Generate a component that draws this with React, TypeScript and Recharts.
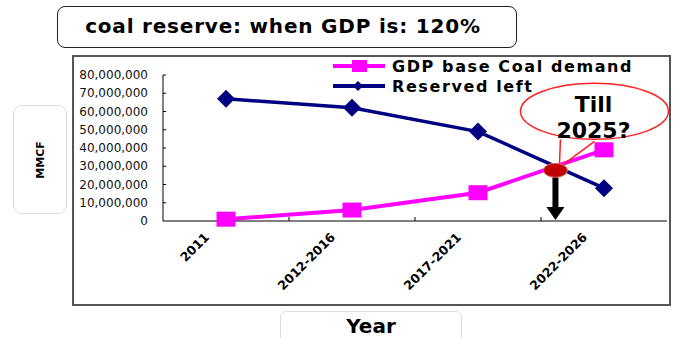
import React from 'react';
import { LineChart, Line, XAxis, YAxis, Legend } from 'recharts';

const years = ['2011', '2012-2016', '2017-2021', '2022-2026'];
const coalDemand = [1000000, 6000000, 15500000, 39000000];
const reservedLeft = [67000000, 62000000, 49000000, 18000000];
const yTicks = [0, 10000000, 20000000, 30000000, 40000000, 50000000, 60000000, 70000000, 80000000];
const seriesNames = ['GDP base Coal demand', 'Reserved left'];
const titleText = 'coal reserve: when GDP is: 120%';
const yLabelText = 'MMCF';
const xLabelText = 'Year';
const calloutLines = ['Till', '2025?'];

const data = years.map((y, i) => ({ year: y, demand: coalDemand[i], reserve: reservedLeft[i] }));

const W = 676;
const H = 338;
const PLOT_L = 163;
const PLOT_R = 667;
const PLOT_T = 75;
const PLOT_B = 221;
const X_TICK_MARGIN = 8;
const Y_TICK_MARGIN = 15;
const MAGENTA = '#FF00FF';
const NAVY = '#000080';
const FONT = '"DejaVu Sans", "Liberation Sans", Arial, sans-serif';

const fmt = (v: number) => v.toLocaleString('en-US');

const XTick = (props: any) => {
  const { x, y, payload, index } = props;
  const band = (PLOT_R - PLOT_L) / years.length;
  const ax = y - X_TICK_MARGIN;
  const ex = x - 16;
  const ey = y + 9;
  return (
    <g>
      {index < years.length - 1 && (
        <line x1={x + band / 2} x2={x + band / 2} y1={ax} y2={ax - 4} stroke="#000" strokeWidth={1} />
      )}
      <text
        x={ex}
        y={ey}
        transform={`rotate(-45 ${ex} ${ey})`}
        textAnchor="end"
        fontSize={12.5}
        fontWeight="bold"
        fontFamily={FONT}
        fill="#000"
      >
        {payload.value}
      </text>
    </g>
  );
};

const YTick = (props: any) => {
  const { x, y, payload } = props;
  const ax = x + Y_TICK_MARGIN;
  return (
    <g>
      {payload.value !== 0 && <line x1={ax} x2={ax + 3} y1={y} y2={y} stroke="#000" strokeWidth={1} />}
      <text x={x} y={y + 4} textAnchor="end" fontSize={12} fontFamily={FONT} fill="#111">
        {fmt(payload.value)}
      </text>
    </g>
  );
};

const SquareDot = (props: any) => {
  const { cx, cy, index } = props;
  if (cx == null || cy == null) return <g key={`s-${index}`} />;
  return <rect key={`s-${index}`} x={cx - 9.5} y={cy - 7.5} width={19} height={15} fill={MAGENTA} />;
};

const DiamondDot = (props: any) => {
  const { cx, cy, index, points } = props;
  if (cx == null || cy == null) return <g key={`d-${index}`} />;
  const diamond = (
    <polygon
      points={`${cx},${cy - 9} ${cx + 9},${cy} ${cx},${cy + 9} ${cx - 9},${cy}`}
      fill={NAVY}
    />
  );
  let annotation = null;
  if (points && index === points.length - 1 && points.length >= 2) {
    const p2 = points[index - 1];
    const p3 = points[index];
    const r2 = p2.payload.reserve;
    const r3 = p3.payload.reserve;
    const d2 = p2.payload.demand;
    const d3 = p3.payload.demand;
    const k = (p3.y - p2.y) / (r3 - r2);
    const yOf = (v: number) => p2.y + (v - r2) * k;
    const t = (r2 - d2) / (r2 - d2 - (r3 - d3));
    const ix = p2.x + t * (p3.x - p2.x);
    const iv = r2 + (r3 - r2) * t;
    const iy = yOf(iv) + 4;
    const base = yOf(0);
    annotation = (
      <g>
        <ellipse cx={ix + 39} cy={iy - 59} rx={74} ry={28} fill="#fff" stroke="#FF2020" strokeWidth={1.5} />
        <line x1={ix + 5} y1={iy - 31} x2={ix + 4} y2={iy - 6} stroke="#FF2020" strokeWidth={1.5} />
        <line x1={ix + 39} y1={iy - 29} x2={ix + 8} y2={iy - 6} stroke="#FF2020" strokeWidth={1.5} />
        <text x={ix + 38} y={iy - 58} textAnchor="middle" fontSize={22} fontWeight="bold" fontFamily={FONT} fill="#000">
          {calloutLines[0]}
        </text>
        <text x={ix + 38} y={iy - 32} textAnchor="middle" fontSize={22} fontWeight="bold" fontFamily={FONT} fill="#000">
          {calloutLines[1]}
        </text>
        <rect x={ix - 3} y={iy + 6} width={6} height={base - 13 - (iy + 6)} fill="#000" />
        <polygon points={`${ix - 9},${base - 14} ${ix + 9},${base - 14} ${ix},${base - 1}`} fill="#000" />
        <ellipse cx={ix} cy={iy} rx={12} ry={7} fill="#C00000" stroke="#E07070" strokeWidth={1} />
      </g>
    );
  }
  return (
    <g key={`d-${index}`}>
      {diamond}
      {annotation}
    </g>
  );
};

const renderLegend = (props: any) => {
  const payload = props.payload || [];
  return (
    <div style={{ fontFamily: FONT }}>
      {payload.map((e: any, i: number) => (
        <div key={`leg-${i}`} style={{ display: 'flex', alignItems: 'center', height: 20 }}>
          <svg width={59} height={20} style={{ display: 'block' }}>
            <line x1={0} x2={52} y1={10} y2={10} stroke={e.color} strokeWidth={4} />
            {i === 0 ? (
              <rect x={19} y={4} width={15} height={12} fill={e.color} />
            ) : (
              <polygon points="25,5 30,10 25,15 20,10" fill={e.color} />
            )}
          </svg>
          <span style={{ fontSize: 16, fontWeight: 'bold', letterSpacing: 1.6, color: '#000', whiteSpace: 'nowrap' }}>
            {e.value}
          </span>
        </div>
      ))}
    </div>
  );
};

export default function App() {
  return (
    <div style={{ position: 'fixed', left: 0, top: 0, width: W, height: H, background: '#fff', overflow: 'hidden' }}>
      <div
        style={{
          position: 'absolute', left: 72, top: 55, width: 599, height: 251,
          border: '2px solid #555', boxSizing: 'border-box',
        }}
      />
      <div
        style={{
          position: 'absolute', left: 57, top: 6, width: 460, height: 42, boxSizing: 'border-box',
          border: '1.5px solid #222', borderRadius: 8, textAlign: 'center', fontFamily: FONT,
          fontWeight: 'bold', fontSize: 20, letterSpacing: 0.8, lineHeight: '39px', color: '#000', paddingRight: 8,
        }}
      >
        {titleText}
      </div>
      <div
        style={{
          position: 'absolute', left: 13, top: 105, width: 54, height: 109, boxSizing: 'border-box',
          border: '1px solid #ddd', borderRadius: 9,
        }}
      >
        <div
          style={{
            position: 'absolute', left: 26, top: 54, transform: 'translate(-50%, -50%) rotate(-90deg)',
            fontFamily: FONT, fontWeight: 'bold', fontSize: 11, color: '#000', whiteSpace: 'nowrap',
          }}
        >
          {yLabelText}
        </div>
      </div>
      <div
        style={{
          position: 'absolute', left: 280, top: 311, width: 182, height: 40, boxSizing: 'border-box',
          border: '1px solid #ddd', borderRadius: 6, textAlign: 'center', fontFamily: FONT,
          fontWeight: 'bold', fontSize: 20, lineHeight: '28px', color: '#000',
        }}
      >
        {xLabelText}
      </div>
      <div style={{ position: 'absolute', left: 0, top: 0 }}>
        <LineChart
          width={W}
          height={H}
          data={data}
          margin={{ top: PLOT_T, right: W - PLOT_R, bottom: 0, left: PLOT_L - 90 }}
        >
          <XAxis
            dataKey="year"
            scale="band"
            interval={0}
            height={H - PLOT_B}
            tickLine={false}
            tickSize={0}
            tickMargin={X_TICK_MARGIN}
            axisLine={{ stroke: '#000', strokeWidth: 1 }}
            tick={<XTick />}
          />
          <YAxis
            width={90}
            domain={[0, 80000000]}
            ticks={yTicks}
            interval={0}
            tickLine={false}
            tickSize={0}
            tickMargin={Y_TICK_MARGIN}
            axisLine={{ stroke: '#000', strokeWidth: 1 }}
            tick={<YTick />}
          />
          <Legend
            layout="vertical"
            align="center"
            verticalAlign="middle"
            width={330}
            content={renderLegend}
            wrapperStyle={{ left: 333, top: 56, width: 330, height: 42 }}
          />
          <Line
            type="linear"
            dataKey="demand"
            name={seriesNames[0]}
            stroke={MAGENTA}
            strokeWidth={4}
            dot={SquareDot}
            activeDot={false}
            isAnimationActive={false}
          />
          <Line
            type="linear"
            dataKey="reserve"
            name={seriesNames[1]}
            stroke={NAVY}
            strokeWidth={3.5}
            dot={DiamondDot}
            activeDot={false}
            isAnimationActive={false}
          />
        </LineChart>
      </div>
    </div>
  );
}
